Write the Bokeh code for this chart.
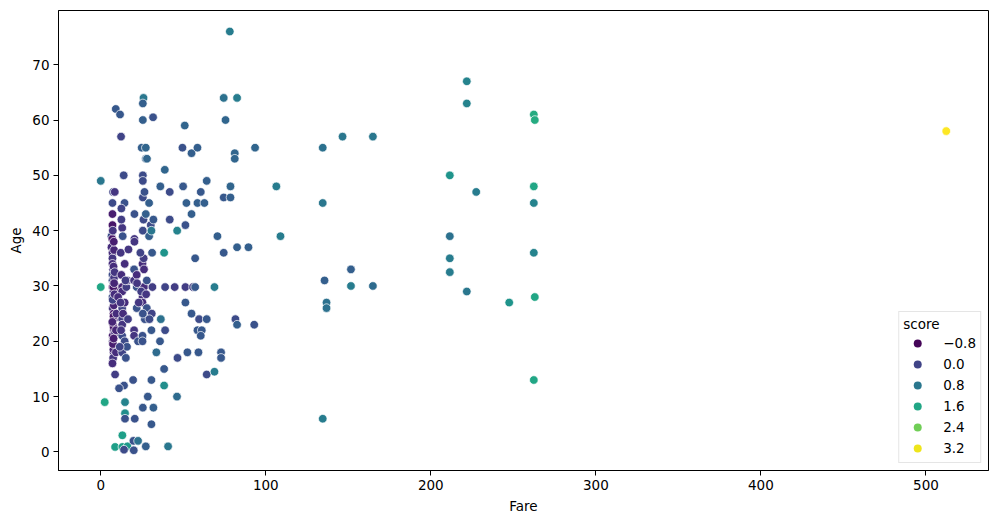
from bokeh.plotting import figure
from bokeh.models import (ColumnDataSource, LinearColorMapper, Legend, LegendItem,
                          FixedTicker, Range1d)
from bokeh.palettes import Viridis256
from bokeh.transform import transform
from bokeh.embed import file_html
from bokeh.resources import INLINE

# ---- data: (fare, age, score) ----
fare = [
    # fare ~7-9 column
    7.1, 7.5, 8.5, 7.1, 7.1, 6.5, 7.0, 6.5, 7.1, 7.1, 7.1, 7.5, 7.1, 7.1, 7.8, 7.1, 7.7, 7.1, 8.0, 7.2,
    7.75, 8.05, 7.5, 7.9, 7.2, 7.25, 8.0, 7.8, 7.5, 7.1, 8.7, 8.05, 7.9, 7.75, 7.9, 8.66, 7.65, 7.75,
    8.05, 7.23, 7.9, 7.3, 9.5, 9.2, 9.5, 9.2, 7.6, 8.1, 7.4, 8.3, 7.0, 7.8, 8.4,
    # fare ~9-17
    12.1, 12.5, 13.0, 13.0, 13.0, 13.0, 13.0, 13.0, 13.0, 14.5, 13.0, 14.5, 15.5, 15.9, 15.2, 14.4,
    13.9, 12.3, 9.1, 11.7, 12.5, 12.5, 13.3, 16.8, 16.1, 14.5, 14.1, 14.7, 14.7, 14.7, 13.1, 8.7,
    13.1, 16.2, 14.1, 11.1, 10.5, 12.3, 13.5, 15.0, 11.5, 12.0, 16.5,
    # fare ~19-32
    20.4, 20.4, 20.4, 20.2, 20.2, 21.8, 21.8, 21.8, 20.2, 20.2, 22.6, 25.3, 25.3, 25.3, 26.2, 25.3,
    25.3, 26.2, 27.9, 26.7, 27.9, 25.5, 24.5, 26.0, 27.5, 25.5, 25.5, 25.5, 25.9, 25.5, 27.3, 29.3,
    29.3, 30.3, 30.7, 31.9, 31.1, 31.3, 30.9, 30.7, 31.7, 25.9, 25.5, 25.5, 24.8, 27.3, 27.3, 28.0,
    26.5, 29.5, 19.6, 30.7, 28.5, 25.5, 31.9, 20.6, 30.7, 19.8, 22.6, 27.3, 20.0, 22.0, 23.0, 24.0,
    # fare ~33-70
    38.8, 36.1, 41.8, 49.9, 49.5, 50.9, 55.0, 58.6, 51.9, 58.6, 62.8, 55.0, 60.6, 64.2, 41.8, 46.3,
    51.3, 38.4, 57.2, 39.0, 44.8, 51.3, 55.9, 57.2, 68.9, 51.3, 55.0, 59.6, 64.2, 36.4, 39.0, 58.6,
    61.2, 60.6, 35.9, 33.7, 46.5, 52.5, 59.2, 38.4, 64.2, 68.9, 38.4, 46.2, 40.8, 70.7,
    # fare ~70-110
    78.2, 74.5, 82.6, 75.6, 81.2, 81.2, 78.6, 74.5, 78.6, 82.6, 89.5, 74.5, 81.6, 82.6, 93.0, 72.9,
    72.9, 93.5, 106.4, 108.9,
    # fare > 130
    134.5, 134.5, 146.5, 164.9, 135.6, 151.6, 151.6, 164.9, 136.8, 136.8, 134.5,
    211.5, 211.5, 211.5, 211.5, 221.8, 221.8, 221.8, 227.5, 247.5,
    262.4, 263.0, 262.4, 262.4, 262.4, 263.0, 262.4, 512.3,
    # fare ~0-3
    0.0, 0.0, 2.4,
]
age = [
    45, 47, 47, 43, 41, 39, 38.5, 37, 36, 35, 34, 33, 32, 31, 30.5, 29.8, 29, 28, 27, 26,
    25, 24, 23, 22, 21, 20, 19, 18, 17, 16, 14, 36.5, 26.5, 24.5, 22.5, 21.5, 18.5, 33.5,
    31.5, 27.5, 38, 40, 25, 22, 29.8, 18, 29.8, 30.5, 19.5, 28.5, 23.5, 20.5, 32.5,
    36, 32, 40.5, 29.8, 29, 26, 24, 23, 21, 20, 18, 27, 29.8, 19, 17, 45,
    50, 57, 62, 61, 44, 42, 39, 36.6, 31, 34, 12, 9, 7, 6, 3, 0.9,
    0.9, 1, 0.4, 11.5, 28, 22, 25, 31, 19, 27, 24,
    43, 38.5, 38, 33, 31, 32, 29.8, 26, 22, 21, 20, 21, 20, 34, 33, 28,
    27, 29.8, 26, 24, 31, 25, 29, 35, 28.5, 50, 49, 46, 42, 40, 43, 45,
    39, 41, 40, 42, 36, 29.8, 25, 22, 60.5, 64, 63, 60, 55, 55, 53, 53,
    47, 24, 13, 13, 10, 8, 8, 6, 5, 2, 2, 1, 0.3, 30.5, 27, 36,
    51, 48, 47, 48, 55, 59, 54, 55, 45, 45, 45, 43, 47, 49, 42, 40,
    41, 36, 35, 29.8, 29.8, 29.8, 29.8, 29.8, 29.8, 27, 25, 24, 24, 24, 22, 22,
    22, 21, 20, 18, 17, 18, 18, 15, 14, 14.5, 12, 10, 1, 39,
    76, 64, 64, 60, 54, 53, 48, 46, 46, 37, 37, 36, 24, 23, 23, 18,
    17, 55, 48, 39,
    55, 45, 57, 57, 31, 33, 30, 30, 27, 26, 6,
    50, 39, 35, 32.5, 67, 63, 29, 47, 27,
    61, 60, 48, 45, 36, 28, 13, 58,
    29.8, 49, 9,
]
score = [
    0.1, 0.0, -0.2, -0.5, -0.6, 0.1, -0.6, -0.3, -0.3, -0.2, -0.3, -0.2, 0.1, 0.1, -0.3, -0.8, -0.3, 0.1, -0.3, -0.2,
    -0.5, -0.3, -0.7, -0.4, -0.5, -0.3, -0.4, -0.3, -0.2, -0.3, -0.1, -0.4, -0.4, -0.6, -0.6, -0.3, -0.4, -0.3,
    -0.2, 0.0, -0.5, -0.2, -0.3, -0.4, -0.5, -0.3, -0.6, -0.4, -0.5, -0.3, -0.4, -0.5, -0.2,
    -0.2, -0.3, -0.2, -0.4, -0.3, 0.0, -0.1, -0.2, 0.1, 0.1, 0.0, -0.3, -0.1, 0.2, 0.2, 0.2,
    0.1, 0.0, 0.3, 0.3, 0.0, -0.1, 0.2, -0.2, -0.2, -0.3, 0.2, 1.0, 1.2, 0.2, 1.5, 1.5,
    1.5, 1.4, 0.1, 0.2, -0.3, -0.2, -0.3, -0.1, 0.0, -0.2, -0.1,
    0.2, -0.2, -0.2, 0.2, -0.2, -0.3, 0.2, 0.2, -0.2, -0.2, 0.2, 0.2, 0.2, -0.3, -0.3, -0.3,
    -0.3, -0.3, 0.2, 0.2, 0.2, 0.2, -0.1, -0.1, -0.2, 0.1, 0.1, 0.1, 0.1, 0.1, 0.4, 0.4,
    0.4, 0.1, 0.8, 0.3, 0.3, -0.1, 0.0, 0.3, 0.2, 0.8, 0.4, 0.4, 0.4, 0.5, 0.4, 0.5,
    0.2, 0.1, 0.2, 0.3, 0.3, 0.3, 0.4, 0.2, 0.3, 0.2, 0.7, 0.4, 0.2, -0.2, -0.2, 0.0,
    0.5, 0.4, 0.1, 0.3, 0.2, 0.5, 0.4, 0.4, 0.4, 0.4, 0.4, 0.4, 0.3, 0.4, 0.1, 1.0,
    0.2, 1.3, 0.3, 0.0, -0.1, -0.1, -0.1, 0.3, 0.9, 0.3, 0.3, 0.1, 0.3, 0.7, 0.1, 0.3,
    0.3, 0.3, 0.3, 0.6, 0.1, 0.3, 0.3, 0.3, 0.1, 0.9, 1.2, 0.6, 0.8, 0.4,
    0.9, 0.7, 0.9, 0.5, 0.5, 0.5, 0.5, 0.3, 0.4, 0.4, 0.4, 0.3, 0.1, 0.4, 0.2, 0.3,
    0.3, 0.5, 0.9, 0.9,
    0.7, 0.8, 0.8, 0.8, 0.4, 0.4, 0.9, 0.6, 0.7, 0.7, 0.9,
    1.3, 0.7, 0.9, 0.9, 1.0, 1.0, 0.8, 0.9, 1.3,
    1.7, 1.7, 1.6, 1.0, 1.0, 1.6, 1.6, 3.3,
    1.6, 0.8, 1.6,
]

legend_values = [-0.8, 0.0, 0.8, 1.6, 2.4, 3.2]
legend_labels = ["\u22120.8", "0.0", "0.8", "1.6", "2.4", "3.2"]
x_ticks = [0, 100, 200, 300, 400, 500]
y_ticks = [0, 10, 20, 30, 40, 50, 60, 70]

SLOW, SHIGH = -0.85, 3.3
FONT = "DejaVu Sans"

src = ColumnDataSource(dict(fare=fare, age=age, score=score))
mapper = LinearColorMapper(palette=Viridis256, low=SLOW, high=SHIGH)

p = figure(frame_width=930, frame_height=460, output_backend="svg", toolbar_location=None,
           x_range=Range1d(-25.6, 537.9), y_range=Range1d(-3.36, 79.8),
           min_border_left=58, min_border_right=1, min_border_top=10, min_border_bottom=36)

p.scatter(x="fare", y="age", source=src, size=8.6,
          fill_color=transform("score", mapper), line_color="white", line_width=0.7)

items = []
for v, lab in zip(legend_values, legend_labels):
    t = (v - SLOW) / (SHIGH - SLOW)
    col = Viridis256[max(0, min(255, int(round(t * 255))))]
    r = p.scatter(x=[float("nan")], y=[float("nan")], size=9, fill_color=col,
                  line_color=None)
    items.append(LegendItem(label=lab, renderers=[r]))

legend = Legend(items=items, location="bottom_right", title="score",
                title_text_font=FONT, title_text_font_size="13.5px", title_text_font_style="normal",
                title_text_color="black", title_standoff=1,
                label_text_font=FONT, label_text_font_size="13.5px", label_text_color="black",
                border_line_color="#cccccc", border_line_width=1, background_fill_alpha=0.8,
                glyph_width=28, glyph_height=20, label_height=20, spacing=1,
                padding=4, margin=7, label_standoff=12)
p.add_layout(legend)

p.grid.visible = False
p.outline_line_color = "black"
p.outline_line_width = 1

for ax in (p.xaxis[0], p.yaxis[0]):
    ax.major_label_text_font = FONT
    ax.major_label_text_font_size = "13.5px"
    ax.major_label_text_color = "black"
    ax.major_label_standoff = 4
    ax.axis_label_text_font = FONT
    ax.axis_label_text_font_size = "13.5px"
    ax.axis_label_text_font_style = "normal"
    ax.axis_label_text_color = "black"
    ax.axis_line_color = "black"
    ax.major_tick_line_color = "black"
    ax.major_tick_out = 5
    ax.major_tick_in = 0
    ax.minor_tick_line_color = None

p.xaxis[0].ticker = FixedTicker(ticks=x_ticks)
p.yaxis[0].ticker = FixedTicker(ticks=y_ticks)
p.xaxis[0].axis_label = "Fare"
p.yaxis[0].axis_label = "Age"
p.xaxis[0].axis_label_standoff = 5
p.yaxis[0].axis_label_standoff = 5

open("out.html", "w").write(file_html(p, INLINE))
